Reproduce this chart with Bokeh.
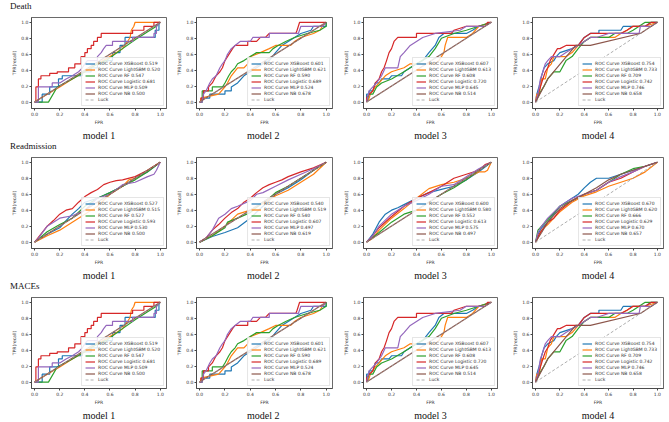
from bokeh.plotting import figure
from bokeh.models import Range1d, FixedTicker, PrintfTickFormatter, Div, Legend, LegendItem
from bokeh.layouts import column, row
from bokeh.embed import file_html
from bokeh.resources import INLINE

MODEL_NAMES = ["XGBoost", "LightGBM", "RF", "Logistic", "MLP", "NB"]
COLORS = ["#1f77b4", "#ff7f0e", "#2ca02c", "#d62728", "#9467bd", "#8c564b"]
ROW_TITLES = ["Death", "Readmission", "MACEs"]
PANEL_TITLES = ["model 1", "model  2", "model 3", "model 4"]
TICKS = [0.0, 0.2, 0.4, 0.6, 0.8, 1.0]
LUCK_X = [0.0, 1.0]
LUCK_Y = [0.0, 1.0]

# ---------------- AUC values shown in the legends ----------------
DEATH_AUC_M1 = [0.519, 0.520, 0.547, 0.681, 0.509, 0.500]
DEATH_AUC_M2 = [0.601, 0.621, 0.590, 0.689, 0.524, 0.678]
DEATH_AUC_M3 = [0.607, 0.613, 0.608, 0.720, 0.645, 0.514]
DEATH_AUC_M4 = [0.754, 0.733, 0.709, 0.742, 0.746, 0.658]
READM_AUC_M1 = [0.527, 0.515, 0.527, 0.593, 0.530, 0.500]
READM_AUC_M2 = [0.540, 0.519, 0.540, 0.607, 0.497, 0.619]
READM_AUC_M3 = [0.600, 0.580, 0.552, 0.613, 0.575, 0.497]
READM_AUC_M4 = [0.670, 0.620, 0.666, 0.629, 0.670, 0.657]
MACES_AUC_M1 = [0.519, 0.520, 0.547, 0.681, 0.509, 0.500]
MACES_AUC_M2 = [0.601, 0.621, 0.590, 0.689, 0.524, 0.678]
MACES_AUC_M3 = [0.607, 0.613, 0.608, 0.720, 0.645, 0.514]
MACES_AUC_M4 = [0.754, 0.733, 0.709, 0.742, 0.746, 0.658]

# ---------------- ROC points (FPR, TPR) ----------------
# Death / MACEs, model 1
D1_XGB = [(0,0),(0.06,0),(0.06,0.1),(0.12,0.1),(0.12,0.19),(0.19,0.19),(0.19,0.29),(0.22,0.29),(0.22,0.33),(0.38,0.33),(0.38,0.38),(0.45,0.38),(0.45,0.43),(0.5,0.43),(0.5,0.48),(0.55,0.48),(0.55,0.52),(0.62,0.52),(0.62,0.62),(0.68,0.62),(0.68,0.71),(0.72,0.71),(0.72,0.81),(0.96,0.81),(0.96,0.9),(0.99,0.9),(0.99,1.0),(1,1)]
D1_LGB = [(0,0),(0.1,0.1),(0.2,0.19),(0.3,0.29),(0.4,0.38),(0.5,0.48),(0.6,0.57),(0.7,0.67),(0.74,0.76),(0.76,0.81),(0.77,0.9),(0.79,0.95),(0.8,1.0),(1,1)]
D1_RF = [(0,0),(0.11,0),(0.18,0.19),(0.3,0.29),(0.4,0.38),(0.5,0.48),(0.57,0.52),(0.7,0.67),(0.8,0.78),(0.9,0.88),(0.97,0.95),(1,1)]
D1_LOG = [(0,0),(0.01,0),(0.01,0.19),(0.03,0.19),(0.03,0.29),(0.05,0.29),(0.05,0.33),(0.12,0.33),(0.12,0.36),(0.18,0.36),(0.18,0.38),(0.27,0.38),(0.27,0.43),(0.32,0.43),(0.32,0.48),(0.37,0.48),(0.37,0.57),(0.4,0.57),(0.4,0.62),(0.42,0.62),(0.42,0.67),(0.45,0.67),(0.45,0.71),(0.47,0.71),(0.47,0.76),(0.5,0.76),(0.5,0.81),(0.53,0.81),(0.53,0.86),(0.78,0.86),(0.78,0.9),(0.87,0.9),(0.87,0.95),(0.95,0.95),(0.95,1.0),(1,1)]
D1_MLP = [(0,0),(0.03,0),(0.03,0.19),(0.14,0.19),(0.14,0.24),(0.2,0.24),(0.25,0.29),(0.3,0.33),(0.35,0.38),(0.38,0.43),(0.4,0.48),(0.42,0.52),(0.5,0.52),(0.5,0.57),(0.53,0.62),(0.55,0.67),(0.57,0.71),(0.62,0.71),(0.62,0.76),(0.78,0.76),(0.78,0.81),(0.95,0.81),(0.95,0.86),(0.97,0.86),(0.97,0.95),(1,1)]
D1_NB = [(0,0),(1,1)]

# Death / MACEs, model 2
D2_XGB = [(0,0),(0.02,0),(0.02,0.05),(0.08,0.05),(0.08,0.1),(0.2,0.1),(0.2,0.14),(0.25,0.14),(0.25,0.19),(0.3,0.24),(0.35,0.33),(0.45,0.43),(0.5,0.48),(0.55,0.52),(0.6,0.62),(0.65,0.71),(0.7,0.76),(0.75,0.81),(0.8,0.86),(0.88,0.9),(0.9,0.95),(1,0.95),(1,1)]
D2_LGB = [(0,0),(0.01,0),(0.01,0.05),(0.15,0.1),(0.2,0.19),(0.22,0.24),(0.25,0.33),(0.3,0.43),(0.35,0.43),(0.38,0.48),(0.4,0.57),(0.48,0.62),(0.55,0.67),(0.6,0.71),(0.72,0.71),(0.75,0.76),(0.8,0.81),(0.9,0.86),(0.95,0.9),(0.97,0.95),(1,1)]
D2_RF = [(0,0),(0.02,0),(0.02,0.14),(0.1,0.14),(0.1,0.19),(0.18,0.19),(0.2,0.24),(0.23,0.33),(0.25,0.38),(0.28,0.43),(0.3,0.48),(0.35,0.52),(0.4,0.57),(0.45,0.62),(0.55,0.62),(0.58,0.67),(0.62,0.71),(0.68,0.76),(0.75,0.81),(0.85,0.86),(0.95,0.9),(1,0.95),(1,1)]
D2_LOG = [(0,0),(0.01,0),(0.01,0.05),(0.03,0.05),(0.03,0.14),(0.07,0.14),(0.07,0.19),(0.1,0.24),(0.13,0.33),(0.16,0.38),(0.18,0.43),(0.2,0.52),(0.22,0.57),(0.24,0.62),(0.26,0.67),(0.28,0.71),(0.38,0.71),(0.38,0.76),(0.45,0.76),(0.48,0.81),(0.52,0.81),(0.55,0.86),(0.76,0.86),(0.77,0.9),(0.78,0.95),(0.79,1.0),(1,1)]
D2_MLP = [(0,0),(0.02,0),(0.03,0.1),(0.05,0.14),(0.08,0.24),(0.1,0.29),(0.13,0.33),(0.16,0.43),(0.18,0.48),(0.2,0.52),(0.22,0.6),(0.25,0.67),(0.28,0.71),(0.32,0.76),(0.4,0.76),(0.42,0.81),(0.55,0.81),(0.55,0.86),(0.78,0.86),(0.8,0.95),(0.97,0.95),(1,1)]
D2_NB = [(0,0),(1,1)]

# Death / MACEs, model 3
D3_XGB = [(0,0),(0,0.1),(0.02,0.1),(0.02,0.14),(0.05,0.14),(0.07,0.24),(0.1,0.24),(0.12,0.29),(0.18,0.29),(0.2,0.33),(0.28,0.33),(0.3,0.38),(0.35,0.43),(0.4,0.48),(0.45,0.52),(0.5,0.62),(0.55,0.71),(0.58,0.81),(0.62,0.86),(0.8,0.86),(0.85,0.9),(0.9,0.95),(1,1)]
D3_LGB = [(0,0),(0.02,0.05),(0.03,0.1),(0.07,0.19),(0.1,0.24),(0.15,0.33),(0.2,0.38),(0.3,0.43),(0.35,0.48),(0.55,0.48),(0.58,0.52),(0.6,0.57),(0.62,0.62),(0.63,0.71),(0.65,0.81),(0.8,0.81),(0.85,0.86),(0.9,0.95),(1,1)]
D3_RF = [(0,0),(0.02,0.1),(0.05,0.1),(0.08,0.19),(0.12,0.24),(0.2,0.29),(0.3,0.38),(0.4,0.48),(0.5,0.57),(0.55,0.67),(0.6,0.8),(0.7,0.86),(0.8,0.9),(0.9,0.95),(1,1)]
D3_LOG = [(0,0),(0,0.05),(0.02,0.1),(0.05,0.14),(0.07,0.24),(0.1,0.29),(0.12,0.38),(0.14,0.43),(0.16,0.52),(0.18,0.62),(0.2,0.67),(0.22,0.76),(0.25,0.81),(0.4,0.81),(0.4,0.86),(0.68,0.86),(0.7,0.9),(0.8,0.95),(0.95,0.95),(0.97,1.0),(1,1)]
D3_MLP = [(0,0),(0.02,0.14),(0.05,0.19),(0.08,0.24),(0.12,0.33),(0.15,0.43),(0.25,0.43),(0.27,0.57),(0.3,0.62),(0.35,0.71),(0.4,0.76),(0.45,0.81),(0.55,0.86),(0.75,0.9),(0.8,0.95),(0.95,0.95),(1,1)]
D3_NB = [(0,0),(1,1)]

# Death / MACEs, model 4
D4_XGB = [(0,0),(0.01,0.1),(0.03,0.2),(0.05,0.33),(0.07,0.43),(0.1,0.48),(0.15,0.52),(0.17,0.57),(0.2,0.62),(0.3,0.67),(0.35,0.71),(0.4,0.81),(0.45,0.86),(0.52,0.86),(0.52,0.9),(0.7,0.9),(0.72,0.95),(0.9,0.95),(0.95,1.0),(1,1)]
D4_LGB = [(0,0),(0.01,0.1),(0.03,0.1),(0.05,0.29),(0.08,0.29),(0.1,0.43),(0.13,0.48),(0.15,0.57),(0.25,0.57),(0.3,0.62),(0.35,0.71),(0.45,0.81),(0.65,0.81),(0.7,0.86),(0.75,0.9),(0.8,0.95),(0.9,0.95),(1,1)]
D4_RF = [(0,0),(0.03,0.1),(0.07,0.2),(0.1,0.29),(0.15,0.38),(0.2,0.38),(0.25,0.52),(0.3,0.57),(0.35,0.67),(0.4,0.76),(0.45,0.81),(0.6,0.81),(0.65,0.86),(0.75,0.86),(0.8,0.9),(0.85,0.95),(0.9,1.0),(1,1)]
D4_LOG = [(0,0),(0.01,0.05),(0.02,0.1),(0.04,0.19),(0.06,0.29),(0.08,0.38),(0.1,0.43),(0.12,0.52),(0.14,0.57),(0.16,0.62),(0.18,0.67),(0.2,0.67),(0.25,0.71),(0.35,0.71),(0.4,0.81),(0.45,0.86),(0.7,0.86),(0.75,0.9),(0.8,0.95),(0.9,0.95),(0.95,1.0),(1,1)]
D4_MLP = [(0,0),(0.02,0.1),(0.04,0.29),(0.06,0.38),(0.08,0.48),(0.1,0.52),(0.13,0.57),(0.2,0.57),(0.25,0.62),(0.3,0.67),(0.35,0.71),(0.4,0.76),(0.45,0.81),(0.5,0.81),(0.6,0.86),(0.85,0.86),(0.86,0.95),(0.95,0.95),(1,1)]
D4_NB = [(0,0),(0.1,0.29),(0.33,0.71),(0.45,0.71),(0.86,0.86),(1,1)]

# Readmission, model 1
R1_XGB = [(0,0),(0.1,0.1),(0.2,0.18),(0.25,0.27),(0.3,0.35),(0.35,0.42),(0.4,0.5),(0.5,0.55),(0.6,0.62),(0.7,0.7),(0.8,0.8),(0.9,0.88),(1,1)]
R1_LGB = [(0,0),(0.1,0.08),(0.2,0.15),(0.3,0.25),(0.4,0.35),(0.5,0.45),(0.6,0.6),(0.7,0.7),(0.75,0.78),(0.8,0.8),(0.9,0.9),(1,1)]
R1_RF = [(0,0),(0.1,0.13),(0.2,0.22),(0.3,0.3),(0.4,0.45),(0.5,0.55),(0.6,0.62),(0.7,0.7),(0.8,0.78),(0.9,0.88),(1,1)]
R1_LOG = [(0,0),(0.05,0.1),(0.1,0.2),(0.15,0.27),(0.2,0.35),(0.25,0.4),(0.3,0.42),(0.35,0.5),(0.4,0.57),(0.45,0.62),(0.5,0.66),(0.55,0.72),(0.6,0.75),(0.65,0.77),(0.7,0.78),(0.8,0.82),(0.9,0.9),(0.95,0.95),(1,1)]
R1_MLP = [(0,0),(0.03,0.05),(0.1,0.2),(0.15,0.25),(0.2,0.3),(0.3,0.33),(0.4,0.4),(0.5,0.55),(0.6,0.6),(0.7,0.72),(0.8,0.75),(0.9,0.82),(0.95,0.85),(0.97,0.9),(1,1)]
R1_NB = [(0,0),(1,1)]

# Readmission, model 2
R2_XGB = [(0,0),(0.1,0.07),(0.2,0.12),(0.3,0.18),(0.4,0.3),(0.5,0.45),(0.6,0.6),(0.7,0.68),(0.8,0.78),(0.9,0.9),(1,1)]
R2_LGB = [(0,0),(0.1,0.08),(0.2,0.2),(0.3,0.35),(0.4,0.4),(0.5,0.48),(0.6,0.58),(0.7,0.65),(0.8,0.75),(0.9,0.85),(1,1)]
R2_RF = [(0,0),(0.1,0.08),(0.2,0.18),(0.22,0.25),(0.3,0.3),(0.4,0.37),(0.5,0.5),(0.55,0.55),(0.6,0.62),(0.7,0.7),(0.8,0.8),(0.9,0.9),(1,1)]
R2_LOG = [(0,0),(0.05,0.05),(0.1,0.15),(0.15,0.22),(0.2,0.3),(0.25,0.37),(0.3,0.42),(0.35,0.5),(0.4,0.55),(0.45,0.62),(0.5,0.68),(0.55,0.72),(0.6,0.75),(0.65,0.78),(0.7,0.82),(0.8,0.88),(0.9,0.93),(1,1)]
R2_MLP = [(0,0),(0.05,0.05),(0.1,0.15),(0.15,0.3),(0.2,0.35),(0.25,0.42),(0.3,0.45),(0.4,0.52),(0.45,0.6),(0.5,0.62),(0.6,0.7),(0.7,0.78),(0.8,0.85),(0.9,0.92),(1,1)]
R2_NB = [(0,0),(1,1)]

# Readmission, model 3
R3_XGB = [(0,0),(0.05,0.1),(0.1,0.25),(0.15,0.35),(0.2,0.4),(0.25,0.43),(0.3,0.47),(0.4,0.55),(0.5,0.62),(0.6,0.66),(0.7,0.7),(0.8,0.78),(0.9,0.88),(1,1)]
R3_LGB = [(0,0),(0.05,0.05),(0.1,0.15),(0.2,0.3),(0.3,0.42),(0.4,0.55),(0.5,0.67),(0.6,0.72),(0.7,0.75),(0.8,0.8),(0.9,0.88),(0.95,0.88),(0.97,0.9),(1,1)]
R3_RF = [(0,0),(0.1,0.12),(0.2,0.25),(0.3,0.35),(0.4,0.4),(0.5,0.5),(0.6,0.6),(0.7,0.68),(0.8,0.78),(0.9,0.9),(1,1)]
R3_LOG = [(0,0),(0.05,0.08),(0.1,0.18),(0.2,0.32),(0.3,0.45),(0.4,0.55),(0.5,0.62),(0.6,0.7),(0.7,0.8),(0.8,0.85),(0.9,0.9),(0.95,0.97),(1,1)]
R3_MLP = [(0,0),(0.05,0.08),(0.1,0.2),(0.2,0.35),(0.3,0.45),(0.4,0.52),(0.5,0.6),(0.6,0.7),(0.7,0.72),(0.8,0.82),(0.9,0.92),(1,1)]
R3_NB = [(0,0),(1,1)]

# Readmission, model 4
R4_XGB = [(0,0),(0.02,0.1),(0.05,0.18),(0.1,0.25),(0.15,0.35),(0.2,0.45),(0.25,0.5),(0.3,0.55),(0.35,0.6),(0.4,0.68),(0.45,0.75),(0.5,0.8),(0.6,0.8),(0.7,0.85),(0.8,0.9),(0.9,0.95),(1,1)]
R4_LGB = [(0,0),(0.02,0.05),(0.05,0.15),(0.1,0.22),(0.15,0.3),(0.2,0.38),(0.3,0.5),(0.4,0.58),(0.5,0.63),(0.6,0.7),(0.7,0.75),(0.8,0.8),(0.9,0.88),(1,1)]
R4_RF = [(0,0),(0.02,0.15),(0.05,0.2),(0.1,0.28),(0.2,0.45),(0.3,0.52),(0.4,0.6),(0.5,0.65),(0.6,0.75),(0.7,0.85),(0.8,0.92),(0.9,0.95),(1,1)]
R4_LOG = [(0,0),(0.03,0.1),(0.1,0.25),(0.15,0.3),(0.2,0.4),(0.3,0.52),(0.4,0.6),(0.5,0.65),(0.6,0.75),(0.7,0.8),(0.8,0.88),(0.9,0.95),(1,1)]
R4_MLP = [(0,0),(0.02,0.12),(0.05,0.2),(0.1,0.3),(0.2,0.45),(0.3,0.55),(0.4,0.6),(0.5,0.65),(0.6,0.75),(0.7,0.82),(0.8,0.88),(0.9,0.95),(1,1)]
R4_NB = [(0,0),(0.02,0.05),(0.05,0.12),(0.1,0.25),(0.2,0.42),(0.3,0.52),(0.4,0.6),(0.5,0.68),(0.6,0.78),(0.7,0.85),(0.8,0.9),(0.9,0.95),(1,1)]

DEATH_CURVES = [[D1_XGB, D1_LGB, D1_RF, D1_LOG, D1_MLP, D1_NB],
                [D2_XGB, D2_LGB, D2_RF, D2_LOG, D2_MLP, D2_NB],
                [D3_XGB, D3_LGB, D3_RF, D3_LOG, D3_MLP, D3_NB],
                [D4_XGB, D4_LGB, D4_RF, D4_LOG, D4_MLP, D4_NB]]
READM_CURVES = [[R1_XGB, R1_LGB, R1_RF, R1_LOG, R1_MLP, R1_NB],
                [R2_XGB, R2_LGB, R2_RF, R2_LOG, R2_MLP, R2_NB],
                [R3_XGB, R3_LGB, R3_RF, R3_LOG, R3_MLP, R3_NB],
                [R4_XGB, R4_LGB, R4_RF, R4_LOG, R4_MLP, R4_NB]]
MACES_CURVES = DEATH_CURVES  # the MACEs panels are identical to the Death panels

ROWS = [(DEATH_CURVES, [DEATH_AUC_M1, DEATH_AUC_M2, DEATH_AUC_M3, DEATH_AUC_M4]),
        (READM_CURVES, [READM_AUC_M1, READM_AUC_M2, READM_AUC_M3, READM_AUC_M4]),
        (MACES_CURVES, [MACES_AUC_M1, MACES_AUC_M2, MACES_AUC_M3, MACES_AUC_M4])]

FIG_WIDTHS = [173, 167, 169, 158]
LEFT_BORDERS = [31, 23, 23, 23]
RIGHT_BORDERS = [7, 8, 12, 4]
FIG_HEIGHT = 126
FRAME_COLOR = "#444444"
TEXT_COLOR = "#333333"


def make_panel(curves, aucs, title, width, lb, rb):
    p = figure(width=width, height=FIG_HEIGHT, output_backend="svg", toolbar_location=None,
               x_range=Range1d(-0.025, 1.05), y_range=Range1d(-0.08, 1.06),
               min_border_left=lb, min_border_right=rb, min_border_top=3, min_border_bottom=0,
               title=title, title_location="below",
               background_fill_color="white", border_fill_color="white")
    p.title.align = "center"
    p.title.text_font = "Liberation Serif"
    p.title.text_font_size = "10px"
    p.title.text_font_style = "normal"
    p.title.text_color = "#111111"
    p.title.standoff = 0
    p.title.offset = 0
    p.outline_line_color = FRAME_COLOR
    p.outline_line_width = 0.8
    p.grid.visible = False
    for ax in (p.xaxis[0], p.yaxis[0]):
        ax.ticker = FixedTicker(ticks=TICKS)
        ax.formatter = PrintfTickFormatter(format="%.1f")
        ax.major_label_text_font = "DejaVu Sans"
        ax.major_label_text_font_size = "4.5px"
        ax.major_label_text_color = TEXT_COLOR
        ax.major_label_standoff = 1
        ax.axis_label_text_font = "DejaVu Sans"
        ax.axis_label_text_font_size = "4.5px"
        ax.axis_label_text_font_style = "normal"
        ax.axis_label_text_color = TEXT_COLOR
        ax.axis_label_standoff = 1
        ax.major_tick_out = 2
        ax.major_tick_in = 0
        ax.minor_tick_out = 0
        ax.minor_tick_in = 0
        ax.axis_line_color = FRAME_COLOR
        ax.axis_line_width = 0.8
        ax.major_tick_line_color = FRAME_COLOR
    p.xaxis.axis_label = "FPR"
    p.yaxis.axis_label = "TPR(recall)"

    items = []
    for pts, name, color, auc in zip(curves, MODEL_NAMES, COLORS, aucs):
        xs = [a for a, b in pts]
        ys = [b for a, b in pts]
        r = p.line(xs, ys, line_color=color, line_width=1.2)
        items.append(LegendItem(label=f"ROC Curve {name} {auc:.3f}", renderers=[r]))
    r = p.line(LUCK_X, LUCK_Y, line_color="#999999", line_dash="3 2", line_width=0.8)
    items.append(LegendItem(label="Luck", renderers=[r]))
    legend = Legend(items=items, location="bottom_right",
                    label_text_font="DejaVu Sans", label_text_font_size="4.5px",
                    label_text_color=TEXT_COLOR,
                    glyph_width=10, glyph_height=5, label_height=5, label_standoff=3,
                    spacing=1, padding=3, margin=2,
                    border_line_color="#cccccc", border_line_width=0.8,
                    background_fill_color="white", background_fill_alpha=0.85)
    p.add_layout(legend)
    return p


blocks = []
for (curve_sets, auc_sets), row_title in zip(ROWS, ROW_TITLES):
    label = Div(text=row_title, width=667, height=14, margin=(0, 0, 0, 0),
                styles={"font-family": "Liberation Serif", "font-size": "9px",
                        "padding-left": "10px", "line-height": "12px", "color": "#111111"})
    figs = [make_panel(curve_sets[i], auc_sets[i], PANEL_TITLES[i], FIG_WIDTHS[i],
                       LEFT_BORDERS[i], RIGHT_BORDERS[i]) for i in range(4)]
    blocks.append(label)
    blocks.append(row(*figs, spacing=0))

layout = column(*blocks, spacing=0)

open("out.html", "w").write(file_html(layout, INLINE))
